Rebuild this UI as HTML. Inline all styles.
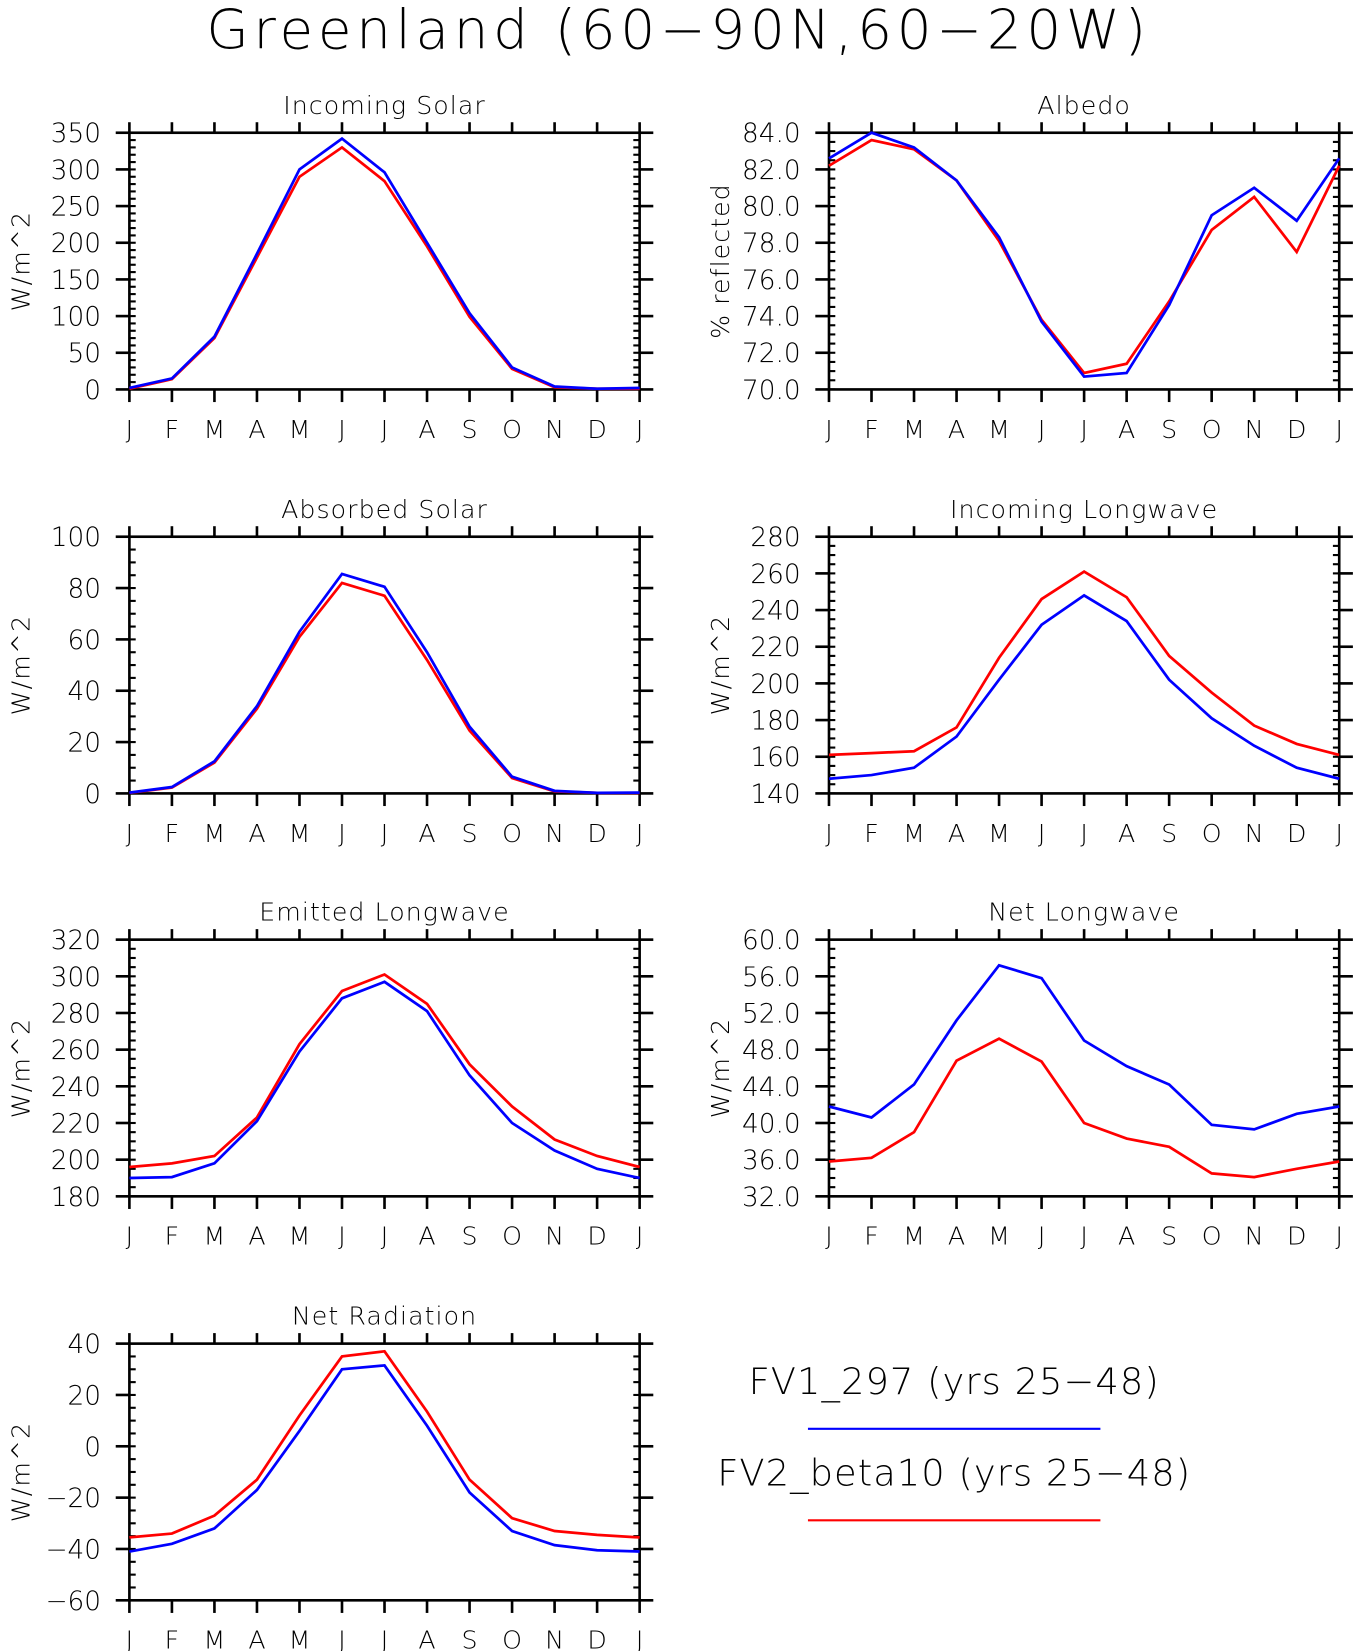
<!DOCTYPE html>
<html><head><meta charset="utf-8"><style>
html,body{margin:0;padding:0;background:#fff;}
svg{display:block;}
text{font-family:"DejaVu Sans","Liberation Sans",sans-serif;fill:#000;}
</style></head><body>
<svg id="fig" width="1355" height="1651" viewBox="0 0 1288 1569" xmlns="http://www.w3.org/2000/svg">
<text x="645" y="46" text-anchor="middle" font-size="52" font-weight="200" letter-spacing="4.5">Greenland (60−90N,60−20W)</text>
<text x="907" y="1325" text-anchor="middle" font-size="35" font-weight="200" letter-spacing="1">FV1_297 (yrs 25−48)</text>
<line x1="768" y1="1358" x2="1046" y2="1358" stroke="#0000ff" stroke-width="2"/>
<text x="907" y="1412" text-anchor="middle" font-size="35" font-weight="200" letter-spacing="1">FV2_beta10 (yrs 25−48)</text>
<line x1="768" y1="1445" x2="1046" y2="1445" stroke="#ff0000" stroke-width="2"/>
</svg>
<script>
const months=["J","F","M","A","M","J","J","A","S","O","N","D","J"];
const solarFV1=[2,15,72,185,300,342,296,200,104,30,4,1,2];
const solarFV2=[1,14,70,180,290,330,284,195,99,28,3,1,1];
const albedoFV1=[82.6,84.0,83.2,81.4,78.3,73.7,70.7,70.9,74.6,79.5,81.0,79.2,82.6];
const albedoFV2=[82.2,83.6,83.1,81.4,78.1,73.8,70.9,71.4,74.8,78.7,80.5,77.5,82.2];
const absorbedFV1=[0.3,2.5,12.5,34,63,85.5,80.5,55,26,6.5,1,0.2,0.3];
const absorbedFV2=[0.2,2.3,12,33,61,82,77,52,24.5,6,0.8,0.2,0.2];
const inLwFV1=[148,150,154,171,202,232,248,234,202,181,166,154,148];
const inLwFV2=[161,162,163,176,214,246,261,247,215,195,177,167,161];
const emitFV1=[190,190.5,198,221,259,288,297,281,246,220,205,195,190];
const emitFV2=[196,198,202,223,263,292,301,285,252,229,211,202,196];
const netLwFV1=[41.8,40.6,44.2,51.2,57.2,55.8,49,46.2,44.2,39.8,39.3,41,41.8];
const netLwFV2=[35.8,36.2,39,46.8,49.2,46.7,40,38.3,37.4,34.5,34.1,35,35.8];
const netRadFV1=[-41,-38,-32,-17,6,30,31.5,8,-18,-33,-38.5,-40.5,-41];
const netRadFV2=[-35.5,-34,-27,-13,12,35,37,13.5,-13,-28,-33,-34.5,-35.5];

const NS="http://www.w3.org/2000/svg";
const svg=document.getElementById("fig");
function mk(tag,attrs,parent){const e=document.createElementNS(NS,tag);for(const k in attrs)e.setAttribute(k,attrs[k]);(parent||svg).appendChild(e);return e;}

const panels=[
 {id:"incoming-solar",title:"Incoming Solar",x:123,y:126,min:0,max:350,step:50,minor:10,dec:0,yt:"W/m^2",a:solarFV1,b:solarFV2},
 {id:"albedo",title:"Albedo",x:788,y:126,min:70,max:84,step:2,minor:0.5,dec:1,yt:"% reflected",a:albedoFV1,b:albedoFV2},
 {id:"absorbed-solar",title:"Absorbed Solar",x:123,y:510,min:0,max:100,step:20,minor:5,dec:0,yt:"W/m^2",a:absorbedFV1,b:absorbedFV2},
 {id:"incoming-longwave",title:"Incoming Longwave",x:788,y:510,min:140,max:280,step:20,minor:5,dec:0,yt:"W/m^2",a:inLwFV1,b:inLwFV2},
 {id:"emitted-longwave",title:"Emitted Longwave",x:123,y:893,min:180,max:320,step:20,minor:5,dec:0,yt:"W/m^2",a:emitFV1,b:emitFV2},
 {id:"net-longwave",title:"Net Longwave",x:788,y:893,min:32,max:60,step:4,minor:1,dec:1,yt:"W/m^2",a:netLwFV1,b:netLwFV2},
 {id:"net-radiation",title:"Net Radiation",x:123,y:1277,min:-60,max:40,step:20,minor:5,dec:0,yt:"W/m^2",a:netRadFV1,b:netRadFV2}
];
const W=485,H=244;
panels.forEach(p=>{
 const g=mk("g",{});
 
 
 const xs=i=>p.x+i*W/12;
 const ys=v=>p.y+H-(v-p.min)/(p.max-p.min)*H;
 const t=mk("text",{x:p.x+W/2,y:p.y-18,"text-anchor":"middle","font-size":"24","font-weight":"200","letter-spacing":"1"},g);
 t.textContent=p.title;
 
 
 const yt=mk("text",{x:0,y:0,"text-anchor":"middle","font-size":"24","font-weight":"200","letter-spacing":"1",transform:`translate(${p.x-95},${p.y+H/2}) rotate(-90)`},g);
 yt.textContent=p.yt;
 
 
 for(let v=p.min;v<=p.max+1e-9;v+=p.minor){
  const y=ys(v);
  mk("line",{x1:p.x,y1:y,x2:p.x+6,y2:y,stroke:"#000","stroke-width":2},g);
  mk("line",{x1:p.x+W,y1:y,x2:p.x+W-6,y2:y,stroke:"#000","stroke-width":2},g);
 }
 for(let v=p.min;v<=p.max+1e-9;v+=p.step){
  const y=ys(v);
  mk("line",{x1:p.x-13,y1:y,x2:p.x,y2:y,stroke:"#000","stroke-width":2.5},g);
  mk("line",{x1:p.x+W,y1:y,x2:p.x+W+13,y2:y,stroke:"#000","stroke-width":2.5},g);
  const lab=mk("text",{x:p.x-27,y:y+9,"text-anchor":"end","font-size":"25","font-weight":"200"},g);
  lab.textContent=(v<0?"−":"")+Math.abs(v).toFixed(p.dec);
  
  
 }
 months.forEach((m,i)=>{
  const x=xs(i);
  mk("line",{x1:x,y1:p.y-10,x2:x,y2:p.y,stroke:"#000","stroke-width":2.5},g);
  mk("line",{x1:x,y1:p.y+H,x2:x,y2:p.y+H+12,stroke:"#000","stroke-width":2.5},g);
  const lab=mk("text",{x:x,y:p.y+H+46,"text-anchor":"middle","font-size":"24","font-weight":"200"},g);
  lab.textContent=m;
  
  
 });
 const fr=mk("rect",{x:p.x,y:p.y,width:W,height:H,fill:"none",stroke:"#000","stroke-width":2.5},g);
 
 
 [[p.b,"#ff0000","fv2"],[p.a,"#0000ff","fv1"]].forEach(([d,c,n])=>{
  const pl=mk("polyline",{points:d.map((v,i)=>xs(i)+","+ys(v)).join(" "),fill:"none",stroke:c,"stroke-width":2.6,"stroke-linejoin":"miter"},g);
  
  
 });
});
</script>
</body></html>
